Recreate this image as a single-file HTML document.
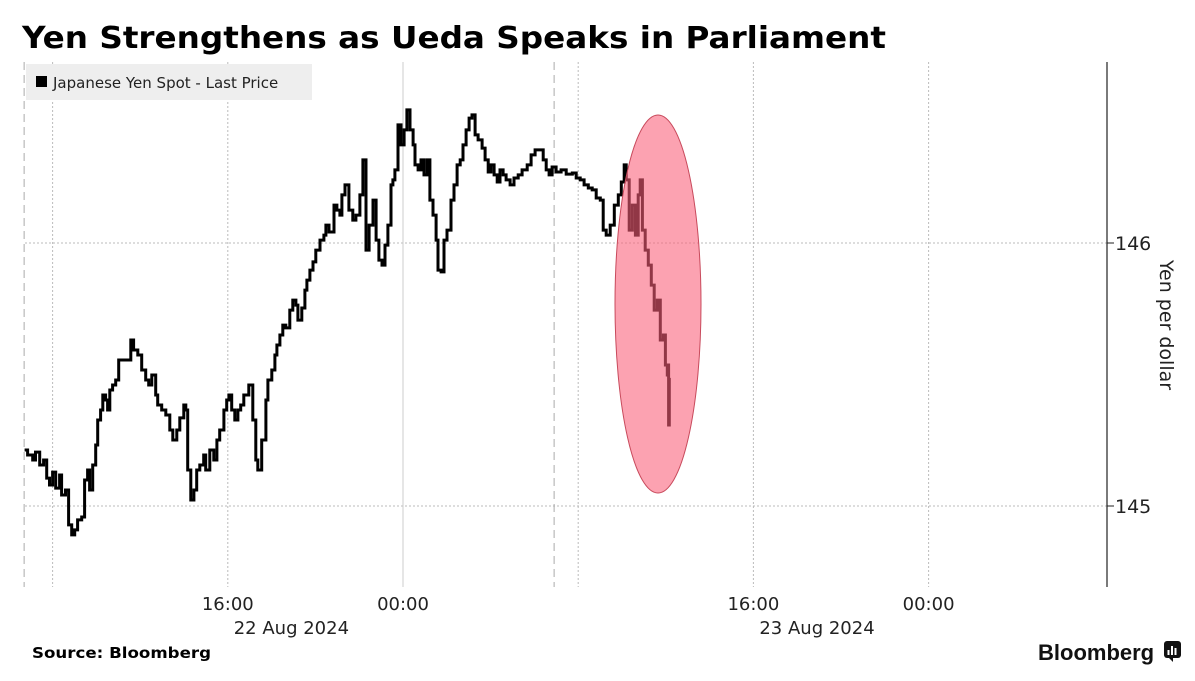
<!DOCTYPE html>
<html><head><meta charset="utf-8"><style>
body{margin:0;background:#fff;}
svg{display:block;font-family:"DejaVu Sans","Liberation Sans",sans-serif;}
</style></head><body>
<svg id="chart" width="1195" height="681" viewBox="0 0 1195 681" xmlns="http://www.w3.org/2000/svg">
<rect width="1195" height="681" fill="#fff"/>
<text x="22" y="48" font-size="30" font-weight="bold" fill="#000" textLength="864" lengthAdjust="spacingAndGlyphs">Yen Strengthens as Ueda Speaks in Parliament</text>
<g id="grid"></g>
<g id="legend">
<rect x="26" y="64" width="286" height="36" fill="#eeeeee"/>
<rect x="36" y="76" width="11" height="11" fill="#000"/>
<text x="53" y="88" font-size="15" fill="#222">Japanese Yen Spot - Last Price</text>
</g>
<g id="series"></g>
<ellipse cx="658" cy="304" rx="43" ry="189" fill="rgb(250,95,120)" fill-opacity="0.58" stroke="#c84a5c" stroke-width="1"/>
<g id="axes"></g>
<text transform="translate(1160,325) rotate(90)" text-anchor="middle" font-size="19" fill="#222">Yen per dollar</text>
<text x="32" y="658" font-size="15" font-weight="bold" fill="#000" textLength="179" lengthAdjust="spacingAndGlyphs">Source: Bloomberg</text>
<text x="1038" y="660" font-family="Liberation Sans, sans-serif" font-size="22" font-weight="bold" fill="#111">Bloomberg</text>
<g>
<rect x="1164" y="641" width="17" height="17" rx="3" fill="#111"/>
<polygon points="1169,658 1173,662 1173,658" fill="#111"/>
<rect x="1167.5" y="650" width="2" height="5" fill="#fff"/>
<rect x="1171" y="646" width="2" height="9" fill="#fff"/>
<rect x="1174.5" y="648" width="2" height="7" fill="#fff"/>
</g>
</svg>
<script>
// hours relative to 00:00 22 Aug 2024
const times = [-17.28,-17.14,-16.91,-16.78,-16.59,-16.41,-16.27,-16.14,-16.00,-15.86,
-15.68,-15.59,-15.41,-15.27,-15.13,-14.99,-14.86,-14.67,-14.54,-14.40,
-14.31,-14.17,-14.03,-13.94,-13.81,-13.71,-13.58,-13.49,-13.39,-13.26,
-13.12,-12.98,-12.85,-12.43,-12.30,-12.11,-11.93,-11.75,-11.61,-11.47,
-11.29,-11.20,-11.02,-10.83,-10.65,-10.51,-10.33,-10.19,-10.01,-9.92,
-9.83,-9.69,-9.55,-9.42,-9.28,-9.10,-9.01,-8.82,-8.64,-8.50,
-8.37,-8.18,-8.05,-7.95,-7.82,-7.68,-7.54,-7.41,-7.27,-7.04,
-6.86,-6.72,-6.63,-6.45,-6.26,-6.17,-5.99,-5.85,-5.76,-5.62,
-5.49,-5.35,-5.17,-5.03,-4.89,-4.80,-4.62,-4.48,-4.39,-4.25,
-4.11,-3.98,-3.79,-3.61,-3.52,-3.38,-3.15,-3.02,-2.88,-2.79,
-2.65,-2.47,-2.29,-2.15,-1.97,-1.83,-1.69,-1.55,-1.37,-1.23,
-1.10,-0.96,-0.82,-0.69,-0.55,-0.46,-0.37,-0.23,-0.09,0.05,
0.18,0.32,0.46,0.55,0.69,0.82,0.96,1.10,1.23,1.37,
1.51,1.60,1.74,1.87,2.01,2.19,2.33,2.47,2.61,2.74,
2.88,3.02,3.15,3.29,3.43,3.61,3.75,3.89,4.02,4.16,
4.30,4.43,4.57,4.71,4.89,5.07,5.26,5.44,5.67,5.85,
6.03,6.22,6.40,6.54,6.67,6.81,6.99,7.22,7.45,7.73,
7.91,8.09,8.27,8.46,8.64,8.82,9.01,9.14,9.28,9.46,
9.65,9.83,9.97,10.10,10.19,10.33,10.47,10.61,10.74,10.83,
10.93,11.06,11.20,11.34,11.47,11.61,11.75,11.89,11.98,12.07,
12.11,12.13,12.16];
const prices = [145.213,145.194,145.175,145.205,145.156,145.175,145.106,145.080,145.129,145.068,
145.118,145.042,145.061,144.928,144.890,144.909,144.947,144.958,145.099,145.137,
145.061,145.156,145.232,145.327,145.365,145.422,145.403,145.365,145.441,145.460,
145.479,145.555,145.555,145.631,145.593,145.574,145.517,145.479,145.460,145.498,
145.422,145.384,145.365,145.346,145.289,145.251,145.289,145.335,145.384,145.365,
145.137,145.023,145.061,145.137,145.156,145.194,145.137,145.213,145.175,145.251,
145.289,145.365,145.403,145.422,145.365,145.327,145.365,145.384,145.422,145.460,
145.327,145.175,145.137,145.251,145.403,145.479,145.517,145.574,145.612,145.650,
145.688,145.677,145.745,145.783,145.764,145.707,145.753,145.821,145.859,145.897,
145.928,145.973,146.011,146.030,146.068,146.042,146.144,146.125,146.106,146.183,
146.221,146.125,146.087,146.106,146.183,146.316,145.973,146.068,146.163,146.011,
145.935,145.916,145.992,146.068,146.221,146.240,146.278,146.449,146.373,146.430,
146.506,146.430,146.373,146.297,146.278,146.316,146.259,146.316,146.163,146.106,
146.011,145.897,145.890,146.011,146.049,146.163,146.221,146.297,146.316,146.373,
146.430,146.475,146.487,146.411,146.392,146.361,146.316,146.270,146.297,146.259,
146.232,146.278,146.259,146.240,146.221,146.247,146.259,146.278,146.297,146.335,
146.354,146.354,146.316,146.278,146.259,146.289,146.270,146.278,146.262,146.266,
146.247,146.240,146.221,146.209,146.202,146.171,146.163,146.049,146.030,146.068,
146.144,146.183,146.232,146.297,146.240,146.049,146.144,146.030,146.183,146.240,
146.049,145.973,145.916,145.840,145.745,145.783,145.631,145.650,145.536,145.498,
145.536,145.308,145.487];
const yTicks = [145, 146];
const xTickHours = [16, 24, 40, 48];
const xTickLabels = ["16:00", "00:00", "16:00", "00:00"];
const gridHours = [-16, -8, 0, 8, 16, 24];
const sessionHours = [-17.3, 6.9];
const dateLabels = ["22 Aug 2024", "23 Aug 2024"];
const dateHours = [-4, 20];

const NS = "http://www.w3.org/2000/svg";
const X0 = 403, PXH = 21.9;
const x = h => X0 + h * PXH;
const y = v => 243 + (146 - v) * 263;
function mk(tag, attrs, parent) {
  const e = document.createElementNS(NS, tag);
  for (const k in attrs) e.setAttribute(k, attrs[k]);
  parent.appendChild(e);
  return e;
}
const grid = document.getElementById('grid');
const axes = document.getElementById('axes');
const series = document.getElementById('series');
const PL = 25, PR = 1107, PT = 62, PB = 587;

yTicks.forEach(v => {
  const l = mk('line', {x1: PL, x2: PR, y1: y(v), y2: y(v), stroke: '#bbb', 'stroke-dasharray': '2,2'}, grid);
  
  
  const t = mk('line', {x1: PR, x2: PR + 7, y1: y(v), y2: y(v), stroke: '#222'}, axes);
  
  
  const lb = mk('text', {x: PR + 8, y: y(v) + 7, 'font-size': 19, fill: '#222'}, axes);
  lb.textContent = v;
  
  
});
gridHours.forEach(h => {
  const l = mk('line', {x1: x(h), x2: x(h), y1: PT, y2: PB, stroke: h === 0 ? '#ccc' : '#bbb', 'stroke-dasharray': h === 0 ? 'none' : '2,2'}, grid);
  
  
});
sessionHours.forEach(h => {
  const l = mk('line', {x1: x(h), x2: x(h), y1: PT, y2: PB, stroke: '#aaa', 'stroke-dasharray': '8,5'}, grid);
  
  
});
const ax = mk('line', {x1: PR, x2: PR, y1: PT, y2: PB, stroke: '#222', 'stroke-width': 1.2}, axes);


xTickHours.forEach((h, i) => {
  const t = mk('text', {x: x(h - 24), y: 610, 'font-size': 18, fill: '#222', 'text-anchor': 'middle'}, axes);
  t.textContent = xTickLabels[i];
  
  
});
dateLabels.forEach((d, i) => {
  const t = mk('text', {x: x(dateHours[i]) - 24, y: 634, 'font-size': 18, fill: '#222', 'text-anchor': 'middle'}, axes);
  t.textContent = d;
  
  
});
let d = '';
for (let i = 0; i < times.length; i++) {
  const px = x(times[i]).toFixed(1), py = y(prices[i]).toFixed(1);
  if (i === 0) d += 'M' + px + ',' + py;
  else d += 'H' + px + 'V' + py;
}
const p = mk('path', {d: d, fill: 'none', stroke: '#000', 'stroke-width': 3, 'stroke-linejoin': 'miter'}, series);


</script>
</body></html>
